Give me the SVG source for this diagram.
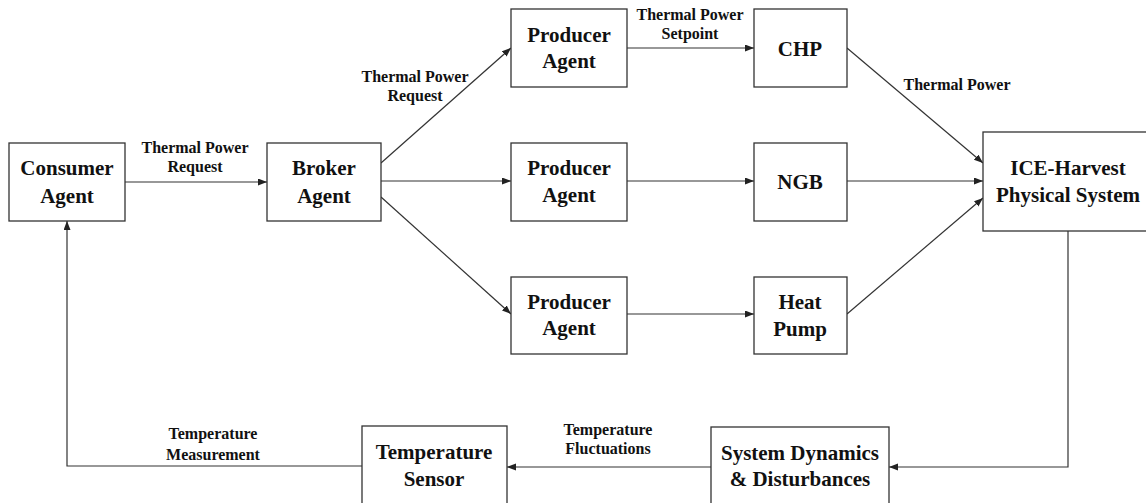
<svg xmlns="http://www.w3.org/2000/svg" width="1146" height="503" viewBox="0 0 1146 503">
<style>
.box{fill:#fff;stroke:#333;stroke-width:1.3}
.nl{font-family:"Liberation Serif","Times New Roman",serif;font-weight:bold;font-size:21px;fill:#111;text-anchor:middle}
.el{font-family:"Liberation Serif","Times New Roman",serif;font-weight:bold;font-size:16px;fill:#111;text-anchor:middle}
.c{fill:none;stroke:#333;stroke-width:1.2;marker-end:url(#ah)}
.cn{fill:none;stroke:#333;stroke-width:1.2}
</style>
<defs>
<marker id="ah" markerUnits="userSpaceOnUse" markerWidth="10" markerHeight="8" refX="9" refY="3.5" orient="auto">
<path d="M0,0 L9,3.5 L0,7 z" fill="#222"/>
</marker>
</defs>
<rect width="1146" height="503" fill="#fff"/>
<g id="connectors">
<line class="c" x1="125" y1="182" x2="267" y2="182"/>
<line class="c" x1="381" y1="163" x2="511" y2="48"/>
<line class="c" x1="381" y1="181" x2="511" y2="181"/>
<line class="c" x1="381" y1="197" x2="511" y2="314"/>
<line class="c" x1="627" y1="48" x2="754" y2="48"/>
<line class="c" x1="627" y1="181" x2="754" y2="181"/>
<line class="c" x1="627" y1="314" x2="754" y2="314"/>
<line class="c" x1="847" y1="48" x2="983" y2="163"/>
<line class="c" x1="847" y1="181" x2="983" y2="181"/>
<line class="c" x1="847" y1="314" x2="983" y2="198"/>
<polyline class="c" points="1068,231 1068,467 889,467"/>
<line class="c" x1="711" y1="467" x2="507" y2="467"/>
<polyline class="c" points="362,466 67,466 67,221"/>
<text class="el" x="195" y="153">Thermal Power</text>
<text class="el" x="195" y="172">Request</text>
<text class="el" x="415" y="82">Thermal Power</text>
<text class="el" x="415" y="101">Request</text>
<text class="el" x="690" y="20">Thermal Power</text>
<text class="el" x="690" y="39">Setpoint</text>
<text class="el" x="957" y="90">Thermal Power</text>
<text class="el" x="608" y="435">Temperature</text>
<text class="el" x="608" y="454">Fluctuations</text>
<text class="el" x="213" y="439">Temperature</text>
<text class="el" x="213" y="460">Measurement</text>
</g>
<g id="consumer"><rect class="box" x="9" y="143" width="116" height="78"/><text class="nl" x="67" y="175">Consumer</text><text class="nl" x="67" y="203">Agent</text></g>
<g id="broker"><rect class="box" x="267" y="143" width="114" height="78"/><text class="nl" x="324" y="175">Broker</text><text class="nl" x="324" y="203">Agent</text></g>
<g id="producer1"><rect class="box" x="511" y="9" width="116" height="78"/><text class="nl" x="569" y="42">Producer</text><text class="nl" x="569" y="68">Agent</text></g>
<g id="producer2"><rect class="box" x="511" y="143" width="116" height="78"/><text class="nl" x="569" y="175">Producer</text><text class="nl" x="569" y="202">Agent</text></g>
<g id="producer3"><rect class="box" x="511" y="277" width="116" height="77"/><text class="nl" x="569" y="309">Producer</text><text class="nl" x="569" y="335">Agent</text></g>
<g id="chp"><rect class="box" x="754" y="9" width="93" height="78"/><text class="nl" x="800" y="56">CHP</text></g>
<g id="ngb"><rect class="box" x="754" y="143" width="93" height="78"/><text class="nl" x="800" y="189">NGB</text></g>
<g id="heatpump"><rect class="box" x="754" y="277" width="93" height="77"/><text class="nl" x="800" y="309">Heat</text><text class="nl" x="800" y="336">Pump</text></g>
<g id="ice"><rect class="box" x="983" y="132" width="170" height="99"/><text class="nl" x="1068" y="175">ICE-Harvest</text><text class="nl" x="1068" y="202">Physical System</text></g>
<g id="sysdyn"><rect class="box" x="711" y="427" width="178" height="80"/><text class="nl" x="800" y="460">System Dynamics</text><text class="nl" x="800" y="486">&amp; Disturbances</text></g>
<g id="sensor"><rect class="box" x="362" y="426" width="145" height="80"/><text class="nl" x="434" y="459">Temperature</text><text class="nl" x="434" y="486">Sensor</text></g>
</svg>
